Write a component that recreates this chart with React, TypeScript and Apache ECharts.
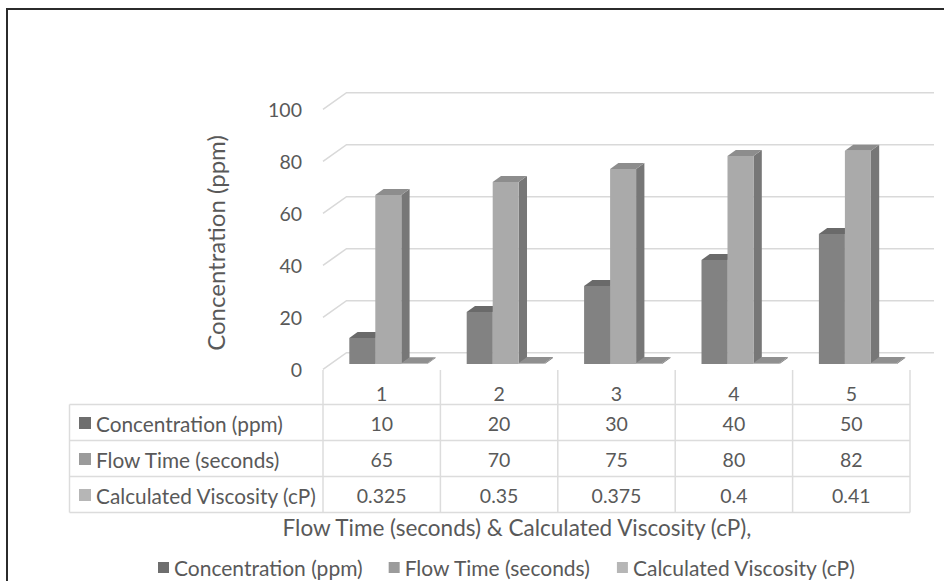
import React, { useEffect, useRef } from "react";
import * as echarts from "echarts";

// Data
const categories = ["1", "2", "3", "4", "5"];
const concentration = [10, 20, 30, 40, 50];
const flowTime = [65, 70, 75, 80, 82];
const viscosity = [0.325, 0.35, 0.375, 0.4, 0.41];
const valueTicks = [0, 20, 40, 60, 80, 100];
const seriesNames = [
  "Concentration (ppm)",
  "Flow Time (seconds)",
  "Calculated Viscosity (cP)",
];
const yTitle = "Concentration (ppm)";
const xTitle = "Flow Time (seconds) & Calculated Viscosity (cP),";

const FONT = "Lato, 'Noto Sans', sans-serif";
const TEXT = "#595959";
const GRID_LINE = "#d9d9d9";
const TABLE_LINE = "#dcdcdc";

// legend / key colours and lit faces of each 3D column
const keyColors = ["#6e6e6e", "#9b9b9b", "#b6b6b6"];
const faceColors = [
  { front: "#828282", top: "#6a6a6a", side: "#686868" },
  { front: "#aaaaaa", top: "#8d8d8d", side: "#777777" },
  { front: "#b4b4b4", top: "#8f8f8f", side: "#7a7a7a" },
];

const DEPTH_X = 8.3;
const DEPTH_Y = 6;
const WALL_X = 23.5;
const WALL_BACK = 11.3;
const WALL_FRONT = 5.3;

const TABLE_LEFT = 69.5;
const HEADER_TOP = 370;
const ROW_LINES = [404.5, 440.5, 476.5, 512.5];
const ROW_TEXT_Y = [393, 423, 459, 495];

function columnSeries(k: number, values: number[]) {
  return {
    type: "custom",
    name: seriesNames[k],
    itemStyle: { color: keyColors[k] },
    z: 10 + k,
    data: values.map((v, i) => [i, v]),
    renderItem: (params: any, api: any) => {
      const idx = api.value(0);
      const v = api.value(1);
      const [cx, y0] = api.coord([idx, 0]);
      const y1 = api.coord([idx, v])[1];
      const band = api.size([1, 0])[0];
      const w = band * 0.2215;
      const s = cx - band / 2 + band * 0.224 + k * w;
      const c = faceColors[k];
      return {
        type: "group",
        children: [
          {
            type: "polygon",
            shape: {
              points: [
                [s + w, y1],
                [s + w + DEPTH_X, y1 - DEPTH_Y],
                [s + w + DEPTH_X, y0 - DEPTH_Y],
                [s + w, y0],
              ],
            },
            style: { fill: c.side },
          },
          {
            type: "polygon",
            shape: {
              points: [
                [s, y1],
                [s + w, y1],
                [s + w + DEPTH_X, y1 - DEPTH_Y],
                [s + DEPTH_X, y1 - DEPTH_Y],
              ],
            },
            style: { fill: c.top },
          },
          {
            type: "rect",
            shape: { x: s, y: y1, width: w, height: Math.max(y0 - y1, 0.8) },
            style: { fill: c.front },
          },
        ],
      };
    },
  };
}

export default function App() {
  const ref = useRef<HTMLDivElement>(null);

  useEffect(() => {
    if (!ref.current) return;
    const chart = echarts.init(ref.current, null, { renderer: "svg" });

    const rowValues = [concentration, flowTime, viscosity];

    const graphic: any[] = [
      // frame
      { type: "line", shape: { x1: 6, y1: 9, x2: 944, y2: 9 }, style: { stroke: "#2b2b2b", lineWidth: 2 } },
      { type: "line", shape: { x1: 7, y1: 8, x2: 7, y2: 581 }, style: { stroke: "#2b2b2b", lineWidth: 2 } },
      // axis titles
      {
        type: "text",
        x: 215,
        y: 243,
        rotation: Math.PI / 2,
        style: { text: yTitle, fill: TEXT, font: `24px ${FONT}`, align: "center", verticalAlign: "middle" },
      },
      {
        type: "text",
        x: 517,
        y: 527,
        style: { text: xTitle, fill: TEXT, font: `22.5px ${FONT}`, align: "center", verticalAlign: "middle" },
      },
      // data table row rules
      ...ROW_LINES.map((y) => ({
        type: "line",
        shape: { x1: TABLE_LEFT, y1: y, x2: 910, y2: y },
        style: { stroke: TABLE_LINE, lineWidth: 1.5 },
      })),
      {
        type: "line",
        shape: { x1: TABLE_LEFT, y1: ROW_LINES[0], x2: TABLE_LEFT, y2: ROW_LINES[3] },
        style: { stroke: TABLE_LINE, lineWidth: 1.5 },
      },
      // row headers with legend keys
      ...seriesNames.flatMap((name, k) => [
        {
          type: "rect",
          shape: { x: 79, y: ROW_TEXT_Y[k + 1] - 6, width: 12, height: 12 },
          style: { fill: keyColors[k] },
        },
        {
          type: "text",
          x: 96,
          y: ROW_TEXT_Y[k + 1],
          style: { text: name, fill: TEXT, font: `20.8px ${FONT}`, align: "left", verticalAlign: "middle" },
        },
      ]),
    ];

    chart.setOption({
      animation: false,
      backgroundColor: "#ffffff",
      textStyle: { fontFamily: FONT },
      grid: { left: 323, right: 34, top: 104, bottom: 217, containLabel: false },
      xAxis: {
        type: "category",
        data: categories,
        boundaryGap: true,
        show: false,
      },
      yAxis: {
        type: "value",
        min: 0,
        max: 100,
        interval: 20,
        show: false,
      },
      legend: {
        left: 153,
        top: 552,
        icon: "rect",
        itemWidth: 11,
        itemHeight: 11,
        itemGap: 26,
        selectedMode: false,
        data: seriesNames,
        textStyle: { color: TEXT, fontSize: 21, fontFamily: FONT },
      },
      graphic,
      series: [
        // 3D walls: back gridlines with bevelled front segment and tick labels
        {
          type: "custom",
          name: "walls",
          z: 1,
          silent: true,
          data: valueTicks.map((v) => [0, v]),
          renderItem: (params: any, api: any) => {
            const v = api.value(1);
            const y = api.coord([0, v])[1];
            const cs = params.coordSys;
            const x0 = cs.x;
            return {
              type: "group",
              children: [
                {
                  type: "polyline",
                  shape: {
                    points: [
                      [x0, y + WALL_FRONT],
                      [x0 + WALL_X, y - WALL_BACK],
                      [x0 + cs.width + 24, y - WALL_BACK],
                    ],
                  },
                  style: { stroke: GRID_LINE, lineWidth: 1.6, fill: "none" },
                },
                {
                  type: "text",
                  x: x0 - 21,
                  y: y + WALL_FRONT,
                  style: {
                    text: String(v),
                    fill: TEXT,
                    font: `19.5px ${FONT}`,
                    align: "right",
                    verticalAlign: "middle",
                  },
                },
              ],
            };
          },
        },
        columnSeries(0, concentration),
        columnSeries(1, flowTime),
        columnSeries(2, viscosity),
        // data table columns: category header and the three value rows
        {
          type: "custom",
          name: "table",
          z: 2,
          silent: true,
          data: categories.map((c, i) => [i, 0]),
          renderItem: (params: any, api: any) => {
            const idx = api.value(0);
            const cx = api.coord([idx, 0])[0];
            const band = api.size([1, 0])[0];
            const left = cx - band / 2;
            const children: any[] = [
              {
                type: "line",
                shape: { x1: left, y1: HEADER_TOP, x2: left, y2: ROW_LINES[3] },
                style: { stroke: TABLE_LINE, lineWidth: 1.5 },
              },
              {
                type: "text",
                x: cx,
                y: ROW_TEXT_Y[0],
                style: { text: categories[idx], fill: TEXT, font: `19.5px ${FONT}`, align: "center", verticalAlign: "middle" },
              },
              ...rowValues.map((vals, r) => ({
                type: "text",
                x: cx,
                y: ROW_TEXT_Y[r + 1],
                style: { text: String(vals[idx]), fill: TEXT, font: `19.5px ${FONT}`, align: "center", verticalAlign: "middle" },
              })),
            ];
            if (idx === categories.length - 1) {
              children.push({
                type: "line",
                shape: { x1: left + band, y1: HEADER_TOP, x2: left + band, y2: ROW_LINES[3] },
                style: { stroke: TABLE_LINE, lineWidth: 1.5 },
              });
            }
            return { type: "group", children };
          },
        },
      ],
    });

    return () => chart.dispose();
  }, []);

  return (
    <div
      ref={ref}
      style={{ position: "fixed", left: 0, top: 0, width: 944, height: 581, background: "#fff" }}
    />
  );
}
